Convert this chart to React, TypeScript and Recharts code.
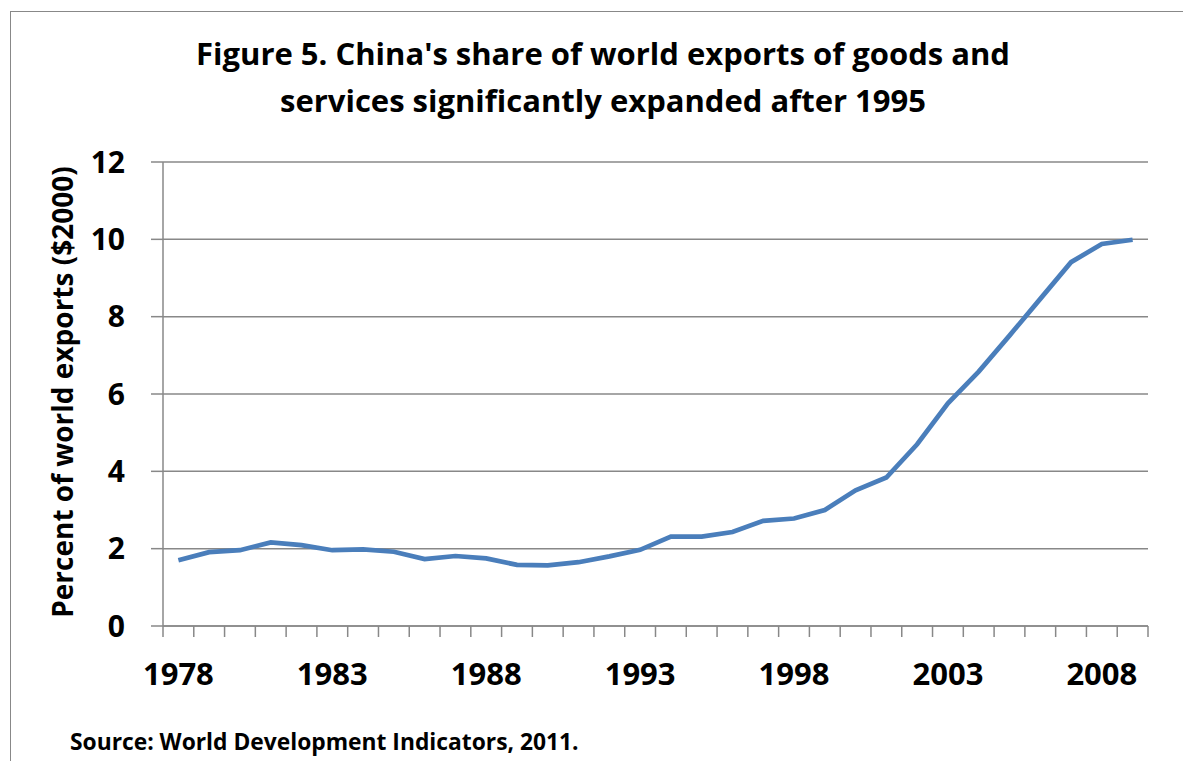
import React from 'react';
import { LineChart, Line, XAxis, YAxis, CartesianGrid } from 'recharts';

const years = [1978, 1979, 1980, 1981, 1982, 1983, 1984, 1985, 1986, 1987, 1988, 1989, 1990, 1991, 1992, 1993, 1994, 1995, 1996, 1997, 1998, 1999, 2000, 2001, 2002, 2003, 2004, 2005, 2006, 2007, 2008, 2009];
const shareOfWorldExports = [1.70, 1.91, 1.96, 2.16, 2.09, 1.96, 1.98, 1.92, 1.73, 1.81, 1.75, 1.58, 1.57, 1.65, 1.80, 1.97, 2.31, 2.31, 2.43, 2.72, 2.78, 3.00, 3.51, 3.84, 4.70, 5.76, 6.58, 7.51, 8.46, 9.41, 9.88, 9.99];
const xLabelTicks = [1978, 1983, 1988, 1993, 1998, 2003, 2008];
const xEdgeTicks = [...years.map((y) => y - 0.5), years[years.length - 1] + 0.5];
const yTicks = [0, 2, 4, 6, 8, 10, 12];
const xDomain = [years[0] - 0.5, years[years.length - 1] + 0.5];

const titleLines = ["Figure 5. China's share of world exports of goods and", 'services significantly expanded after 1995'];
const yAxisTitle = 'Percent of world exports ($2000)';
const sourceNote = 'Source: World Development Indicators, 2011.';

const data = years.map((year, i) => ({ year, share: shareOfWorldExports[i] }));

const FONT = '"Open Sans", Lato, sans-serif';
const GRAY = '#888888';

export default function App() {
  return (
    <div style={{ position: 'fixed', left: 0, top: 0, width: 1183, height: 761, background: '#fff', overflow: 'hidden', fontFamily: FONT }}>
      <div style={{ position: 'absolute', left: 10, top: 11, width: 1180, height: 760, borderTop: `1px solid ${GRAY}`, borderLeft: `1px solid ${GRAY}` }} />
      <div style={{ position: 'absolute', left: 0, top: 0 }}>
        <LineChart width={1183} height={761} data={data} margin={{ top: 162, right: 35, left: 103, bottom: 74 }}>
          <CartesianGrid horizontal vertical={false} stroke={GRAY} strokeWidth={1.5} />
          <XAxis
            xAxisId="edge"
            dataKey="year"
            type="number"
            domain={xDomain}
            ticks={xEdgeTicks}
            interval={0}
            height={1}
            tickSize={11}
            tickFormatter={() => ''}
            axisLine={{ stroke: GRAY, strokeWidth: 1.5 }}
            tickLine={{ stroke: GRAY, strokeWidth: 1.5 }}
            allowDataOverflow
          />
          <XAxis
            xAxisId="lab"
            dataKey="year"
            type="number"
            domain={xDomain}
            ticks={xLabelTicks}
            interval={0}
            height={60}
            tickLine={false}
            axisLine={false}
            tickSize={0}
            tickMargin={36}
            tick={{ fill: '#000', fontSize: 31, fontWeight: 700, fontFamily: FONT }}
            allowDataOverflow
          />
          <YAxis
            type="number"
            domain={[0, 12]}
            ticks={yTicks}
            interval={0}
            width={60}
            tickSize={12}
            tickMargin={26}
            axisLine={{ stroke: GRAY, strokeWidth: 1.5 }}
            tickLine={{ stroke: GRAY, strokeWidth: 1.5 }}
            tick={{ fill: '#000', fontSize: 30, fontWeight: 700, fontFamily: FONT }}
          />
          <Line xAxisId="lab" type="linear" dataKey="share" stroke="#4a7ebb" strokeWidth={4.7} dot={false} isAnimationActive={false} />
        </LineChart>
      </div>
      <svg width={1183} height={761} style={{ position: 'absolute', left: 0, top: 0, pointerEvents: 'none' }}>
        <text x={603} y={65} textAnchor="middle" fontSize={31} fontWeight={700} fontFamily={FONT} fill="#000">{titleLines[0]}</text>
        <text x={603} y={112} textAnchor="middle" fontSize={31} fontWeight={700} fontFamily={FONT} fill="#000">{titleLines[1]}</text>
        <text x={0} y={0} transform="translate(73,392) rotate(-90)" textAnchor="middle" fontSize={28} fontWeight={700} fontFamily={FONT} fill="#000">{yAxisTitle}</text>
        <text x={70} y={750} fontSize={22.8} fontWeight={700} fontFamily={FONT} fill="#000">{sourceNote}</text>
      </svg>
    </div>
  );
}
